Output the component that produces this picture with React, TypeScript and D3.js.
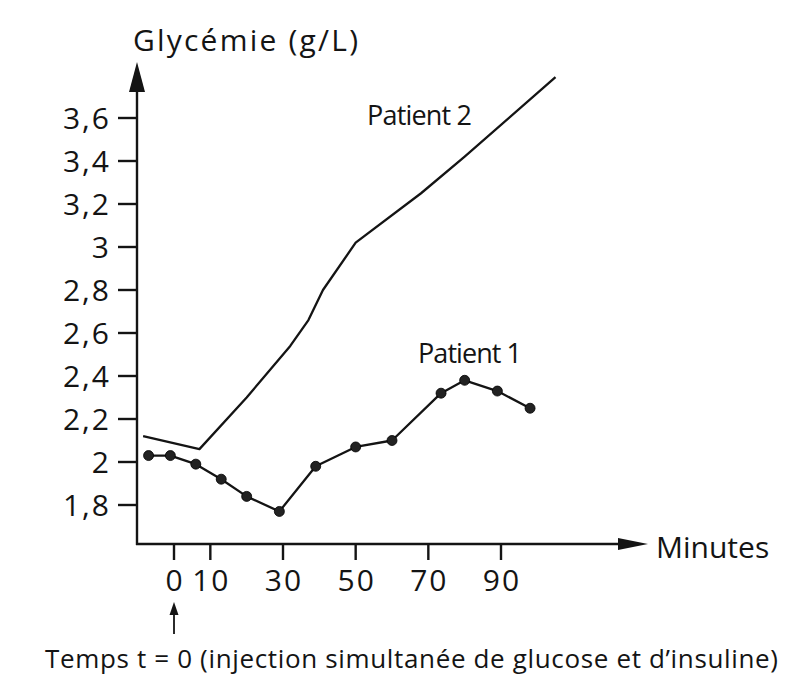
import React from "react";
import * as d3 from "d3";

const minutes1 = [-7, -1, 6, 13, 20, 29, 39, 50, 60, 73.5, 80, 89, 98];
const glycemia1 = [2.03, 2.03, 1.99, 1.92, 1.84, 1.77, 1.98, 2.07, 2.1, 2.32, 2.38, 2.33, 2.25];

const minutes2 = [-8.5, 7, 20, 32, 37, 41, 50, 68, 80, 105];
const glycemia2 = [2.12, 2.06, 2.3, 2.54, 2.66, 2.8, 3.02, 3.25, 3.42, 3.79];

const yTicks = [1.8, 2, 2.2, 2.4, 2.6, 2.8, 3, 3.2, 3.4, 3.6];
const xTicks = [0, 10, 30, 50, 70, 90];

const FONT = "'Open Sans', 'DejaVu Sans', sans-serif";
const INK = "#141414";

export default function App() {
  const x = d3.scaleLinear().domain([0, 90]).range([174, 501]);
  const y = d3.scaleLinear().domain([2, 3.6]).range([462, 118]);

  const axisX = 137;
  const axisY = 544;

  const p1 = minutes1.map((m, i) => [x(m), y(glycemia1[i])] as [number, number]);
  const p2 = minutes2.map((m, i) => [x(m), y(glycemia2[i])] as [number, number]);
  const line = d3.line();

  const fmt = (v: number) => String(Math.round(v * 10) / 10).replace(".", ",");

  return (
    <svg
      width={795}
      height={688}
      style={{ position: "absolute", left: 0, top: 0, background: "#fff" }}
      fontFamily={FONT}
    >
      <rect x={0} y={0} width={795} height={688} fill="#fff" />

      {/* Title */}
      <text x={133} y={51} fontSize={30} fill={INK} textLength={225} lengthAdjust="spacing">
        Glycémie (g/L)
      </text>

      {/* Y axis with arrow */}
      <line x1={axisX} y1={axisY + 1} x2={axisX} y2={88} stroke={INK} strokeWidth={2.4} />
      <path d={`M${axisX},62 L${axisX - 8},92 L${axisX + 8},92 Z`} fill={INK} />

      {/* X axis with arrow */}
      <line x1={axisX - 1} y1={axisY} x2={625} y2={axisY} stroke={INK} strokeWidth={2.4} />
      <path d={`M648,${axisY} L618,${axisY - 6} L618,${axisY + 6} Z`} fill={INK} />
      <text x={656} y={558} fontSize={30} fill={INK}>
        Minutes
      </text>

      {/* Y ticks */}
      {yTicks.map((v) => (
        <g key={v}>
          <line x1={118} x2={axisX} y1={y(v)} y2={y(v)} stroke={INK} strokeWidth={2.4} />
          <text
            x={111}
            y={y(v) + 10.5}
            fontSize={30}
            textAnchor="end"
            fill={INK}
            letterSpacing={2}
          >
            {fmt(v)}
          </text>
        </g>
      ))}

      {/* X ticks */}
      {xTicks.map((v) => (
        <g key={v}>
          <line x1={x(v)} x2={x(v)} y1={axisY} y2={560} stroke={INK} strokeWidth={2.4} />
          <text x={x(v) + 1} y={591} fontSize={30} textAnchor="middle" fill={INK} letterSpacing={2}>
            {v}
          </text>
        </g>
      ))}

      {/* Arrow pointing to t = 0 */}
      <line x1={x(0)} x2={x(0)} y1={634} y2={612} stroke={INK} strokeWidth={1.8} />
      <path d={`M${x(0)},602 L${x(0) - 4.5},615 L${x(0) + 4.5},615 Z`} fill={INK} />
      <text x={45} y={668} fontSize={26} fill={INK} textLength={733} lengthAdjust="spacing">
        Temps t = 0 (injection simultanée de glucose et d’insuline)
      </text>

      {/* Patient 2 */}
      <path d={line(p2) || ""} fill="none" stroke={INK} strokeWidth={2.3} strokeLinejoin="round" />
      <text x={367} y={125} fontSize={27} fill={INK} textLength={105} lengthAdjust="spacing">
        Patient 2
      </text>

      {/* Patient 1 */}
      <path d={line(p1) || ""} fill="none" stroke={INK} strokeWidth={2.3} strokeLinejoin="round" />
      {p1.map(([cx, cy], i) => (
        <circle key={i} cx={cx} cy={cy} r={5} fill="#222" stroke="#000" strokeWidth={0.8} />
      ))}
      <text x={418} y={363} fontSize={27} fill={INK} textLength={104} lengthAdjust="spacing">
        Patient 1
      </text>
    </svg>
  );
}
